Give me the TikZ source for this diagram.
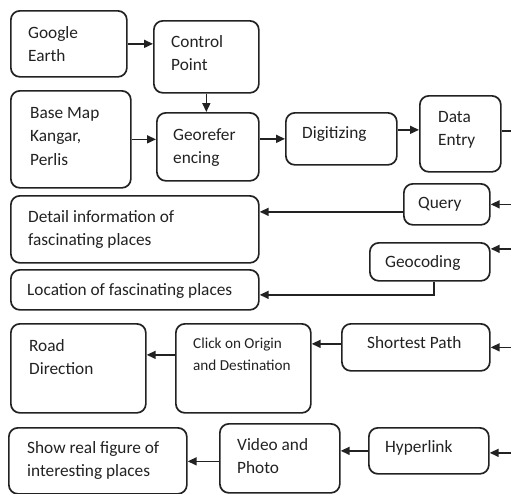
\documentclass[tikz,border=0pt]{standalone}
\usepackage{fontspec}
\setmainfont{Carlito}
\usetikzlibrary{arrows.meta}
\definecolor{ink}{HTML}{222222}
\newcommand{\twolines}[1]{\begin{tabular}[t]{@{}l@{}}#1\end{tabular}}
\begin{document}
\begin{tikzpicture}[x=1pt,y=-1pt,
  box/.style={draw=ink,line width=1.7pt,rounded corners=9pt,inner sep=0pt,anchor=north west},
  txt/.style={text=ink,inner sep=0pt,anchor=base west,font=\fontsize{17.3}{23.5}\selectfont},
  smalltxt/.style={txt,font=\fontsize{15.2}{22}\selectfont},
  arr/.style={draw=ink,line width=1.6pt,-{Triangle[length=9pt,width=8pt]}},
  link/.style={draw=ink,line width=1.6pt}]
\useasboundingbox (0,0) rectangle (511,493);

% boxes
\node[box,minimum width=116pt,minimum height=66pt] (ge) at (10,10) {};
\node[box,minimum width=105pt,minimum height=72pt] (cp) at (153,20) {};
\node[box,minimum width=120pt,minimum height=97pt] (bm) at (10,90) {};
\node[box,minimum width=102pt,minimum height=68pt] (gr) at (156,112) {};
\node[box,minimum width=111pt,minimum height=52pt] (dg) at (285,112) {};
\node[box,minimum width=81pt,minimum height=76pt] (de) at (419,95) {};
\node[box,minimum width=86pt,minimum height=41pt] (qu) at (403,183) {};
\node[box,minimum width=248pt,minimum height=67pt] (di) at (10,195) {};
\node[box,minimum width=120pt,minimum height=38pt] (gc) at (369,242) {};
\node[box,minimum width=248pt,minimum height=40pt] (lo) at (10,269) {};
\node[box,minimum width=135pt,minimum height=89pt] (rd) at (10,323) {};
\node[box,minimum width=135pt,minimum height=89pt] (co) at (175,323) {};
\node[box,minimum width=148pt,minimum height=47pt] (sp) at (341,323) {};
\node[box,minimum width=178pt,minimum height=66pt] (sr) at (8,427) {};
\node[box,minimum width=120pt,minimum height=69pt] (vp) at (219,423) {};
\node[box,minimum width=120pt,minimum height=46pt] (hl) at (368,427) {};

% labels
\node[txt] (ge-t) at (28,38) {\twolines{Google\\Earth}};
\node[txt] (cp-t) at (171,47) {\twolines{Control\\Point}};
\node[txt] (bm-t) at (30,118) {\twolines{Base Map\\Kangar,\\Perlis}};
\node[txt] (gr-t) at (173,140) {\twolines{Georefer\\encing}};
\node[txt] (dg-t) at (302,138) {Digitizing};
\node[txt] (de-t) at (438,122) {\twolines{Data\\Entry}};
\node[txt] (qu-t) at (418,208) {Query};
\node[txt] (di-t) at (28,222) {\twolines{Detail information of\\fascinating places}};
\node[txt] (gc-t) at (385,267) {Geocoding};
\node[txt] (lo-t) at (27,295) {Location of fascinating places};
\node[txt] (rd-t) at (29,351) {\twolines{Road\\Direction}};
\node[smalltxt] (co-t) at (193,348) {\twolines{Click on Origin\\and Destination}};
\node[txt] (sp-t) at (367,348) {Shortest Path};
\node[txt] (sr-t) at (27,453) {\twolines{Show real figure of\\interesting places}};
\node[txt] (vp-t) at (237,450) {\twolines{Video and\\Photo}};
\node[txt] (hl-t) at (385,452) {Hyperlink};

% right-hand bus
\coordinate (bus) at (511,0);

% top chain
\draw[arr] (ge.east) -- (ge.east -| cp.west);
\draw[arr] (cp.south) -- (cp.south |- gr.north);
\draw[arr] (bm.east) -- (bm.east -| gr.west);
\draw[arr] (dg.west -| gr.east) -- (dg.west);
\coordinate (de-in) at ([yshift=4pt]de.west);
\draw[arr] (de-in -| dg.east) -- (de-in);
\coordinate (de-out) at ([yshift=3pt]de.east);
\draw[link] (de-out) -- (de-out -| bus);

% query / geocoding
\draw[arr] (qu.east -| bus) -- (qu.east);
\coordinate (qu-out) at ([yshift=-7.5pt]qu.west);
\draw[arr] (qu-out) -- (qu-out -| di.east);
\coordinate (gc-in) at ([yshift=13pt]gc.east);
\draw[arr] (gc-in -| bus) -- (gc-in);
\coordinate (gc-out) at ([xshift=4pt]gc.south);
\coordinate (gc-bend) at ([yshift=-5pt]gc-out |- lo.east);
\draw[arr] (gc-out) -- (gc-bend) -- (gc-bend -| lo.east);

% shortest path
\draw[arr] (sp.east -| bus) -- (sp.east);
\coordinate (sp-out) at ([yshift=3.5pt]sp.west);
\draw[arr] (sp-out) -- (sp-out -| co.east);
\coordinate (co-out) at ([yshift=13.5pt]co.west);
\draw[arr] (co-out) -- (co-out -| rd.east);

% hyperlink
\coordinate (hl-in) at ([yshift=-2pt]hl.east);
\draw[arr] (hl-in -| bus) -- (hl-in);
\draw[arr] (hl.west) -- (hl.west -| vp.east);
\coordinate (vp-out) at ([yshift=-3pt]vp.west);
\draw[arr] (vp-out) -- (vp-out -| sr.east);
\end{tikzpicture}
\end{document}
